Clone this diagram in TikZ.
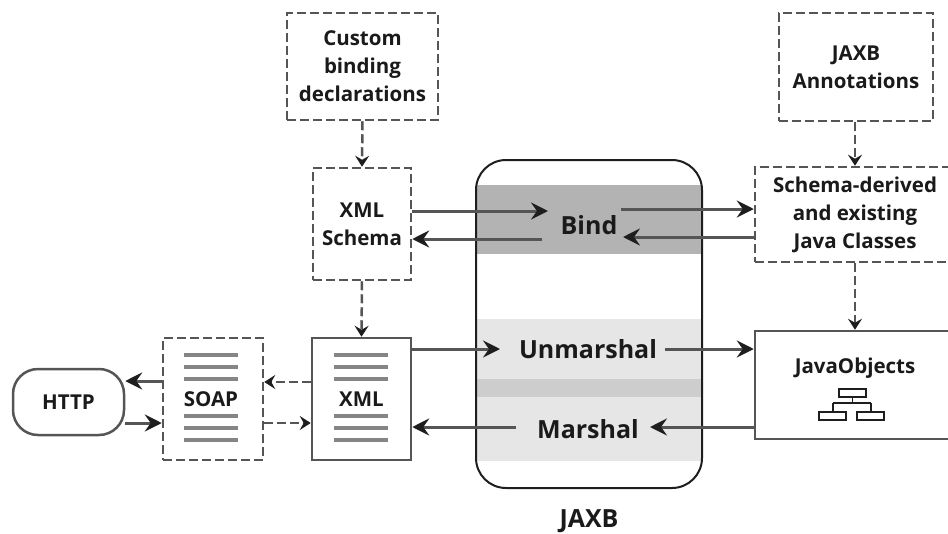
\documentclass[tikz,border=0pt]{standalone}
\usepackage{fontspec}
\setmainfont{Open Sans}
\usetikzlibrary{arrows.meta,calc}
\definecolor{lc}{HTML}{555555}
\definecolor{hc}{HTML}{1E1E1E}
\definecolor{tc}{HTML}{1A1A1A}
\definecolor{bandA}{HTML}{B3B3B3}
\definecolor{bandB}{HTML}{E6E6E6}
\definecolor{bandC}{HTML}{CDCDCD}
\definecolor{docline}{HTML}{858585}
\begin{document}
\begin{tikzpicture}[x=1pt,y=-1pt,
  txt/.style={font=\bfseries\fontsize{20.5}{28}\selectfont, text=tc, align=center},
  bigtxt/.style={font=\bfseries\fontsize{25}{28}\selectfont, text=tc, align=center},
  dbox/.style={draw=lc, line width=2.5pt, dash pattern=on 9pt off 4pt, fill=white, inner sep=0pt, txt},
  sbox/.style={draw=lc, line width=2.5pt, fill=white, inner sep=0pt, txt},
  arr/.style={draw=lc, line width=3pt, -{Stealth[length=17pt,width=17pt,inset=6pt,color=hc]}},
  darr/.style={draw=lc, line width=2.5pt, dash pattern=on 9pt off 4pt, -{Stealth[length=11pt,width=14pt,inset=4pt,color=hc]}},
  dline/.style={draw=docline, line width=3.2pt}
]
\useasboundingbox (0,0) rectangle (948,533);
\clip (0,0) rectangle (948,533);

% JAXB container
\begin{scope}
  \clip[rounded corners=30pt] (476,160) rectangle (702,488);
  \fill[bandA] (470,185) rectangle (710,254);
  \fill[bandB] (470,319) rectangle (710,379);
  \fill[bandC] (470,379) rectangle (710,397);
  \fill[bandB] (470,397) rectangle (710,461);
\end{scope}
\node[draw=hc, line width=2pt, rounded corners=30pt, minimum width=226pt, minimum height=328pt, inner sep=0pt] (jaxb) at (589,324) {};
\node[bigtxt, anchor=base, inner sep=1pt] (jaxblabel) at (589,527) {JAXB};

\node[bigtxt] (bind) at (589,225) {Bind};
\node[bigtxt] (unm) at (588,349) {Unmarshal};
\node[bigtxt] (mar) at (588,429) {Marshal};

% boxes
\node[dbox, minimum width=151pt, minimum height=107pt] (custom) at (362.5,66.5) {Custom\\binding\\declarations};
\node[dbox, minimum width=98pt, minimum height=112pt] (schema) at (362,224) {XML\\Schema};
\node[sbox, minimum width=99pt, minimum height=122pt] (xmldoc) at (361.5,399) {};
\node[dbox, minimum width=100pt, minimum height=122pt] (soap) at (213,399) {};
\node[sbox, rounded corners=25pt, minimum width=111pt, minimum height=66pt] (http) at (68.5,402) {HTTP};
\node[dbox, minimum width=154pt, minimum height=108pt] (annot) at (856,67) {JAXB\\Annotations};
\node[dbox, minimum width=200pt, minimum height=95pt] (classes) at (855,214.5) {};
\node[txt] (classeslabel) at (855,214.5) {Schema-derived\\and existing\\Java Classes};
\node[sbox, minimum width=200pt, minimum height=108pt] (javaobj) at (855,385) {};
\node[txt] (jolabel) at (855,368) {JavaObjects};

% document lines
\foreach \yy in {355,367,379,416,428,440}{
  \draw[dline] (334,\yy) -- (388,\yy);
  \draw[dline] (184,\yy) -- (238,\yy);
}
\node[txt] (xmllabel) at (361.5,399) {XML};
\node[txt] (soaplabel) at (211,399) {SOAP};

% class hierarchy icon
\begin{scope}[draw=hc, line width=1.8pt]
  \draw[fill=white] (839,389) rectangle (866,397);
  \draw (852.5,397) -- (852.5,403);
  \draw (833,403) -- (871,403);
  \draw (833,403) -- (833,412);
  \draw (871,403) -- (871,412);
  \draw[fill=white] (819,412) rectangle (846,420);
  \draw[fill=white] (857,412) rectangle (884,420);
\end{scope}

% dashed vertical arrows
\draw[darr] (custom.south) -- (schema.north);
\draw[darr] (schema.south) -- (xmldoc.north);
\draw[darr] (annot.south -| classes.north) -- (classes.north);
\draw[darr] (classes.south) -- (javaobj.north);

% bind arrows
\coordinate (b1) at (548,211);
\coordinate (b2) at (542,239);
\coordinate (b3) at (621,209);
\coordinate (b4) at (623,237);
\draw[arr] (schema.east |- b1) -- (b1);
\draw[arr] (b2) -- (schema.east |- b2);
\draw[arr] (b3) -- (classes.west |- b3);
\draw[arr] (classes.west |- b4) -- (b4);

% unmarshal / marshal arrows
\coordinate (u1) at (500,349);
\coordinate (u2) at (665,349);
\coordinate (m1) at (650,427);
\coordinate (m2) at (516,427);
\draw[arr] (xmldoc.east |- u1) -- (u1);
\draw[arr] (u2) -- (javaobj.west |- u2);
\draw[arr] (javaobj.west |- m1) -- (m1);
\draw[arr] (m2) -- (xmldoc.east |- m2);

% SOAP / XML dashed arrows
\coordinate (s1) at (0,382);
\coordinate (s2) at (0,423);
\draw[darr] (xmldoc.west |- s1) -- (soap.east |- s1);
\draw[darr] (soap.east |- s2) -- (xmldoc.west |- s2);

% HTTP arrows
\coordinate (h1) at (0,381);
\coordinate (h2) at (0,423);
\draw[arr] (soap.west |- h1) -- (http.east |- h1);
\draw[arr] (http.east |- h2) -- (soap.west |- h2);
\end{tikzpicture}
\end{document}
